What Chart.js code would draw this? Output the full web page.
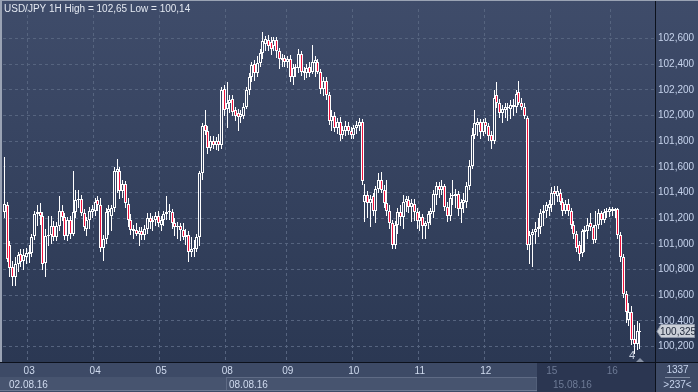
<!DOCTYPE html>
<html>
<head>
<meta charset="utf-8">
<title>USD/JPY 1H</title>
<script src="https://cdn.jsdelivr.net/npm/chart.js@4.4.1/dist/chart.umd.min.js"></script>
<style>
  html, body { margin: 0; padding: 0; background: #2c3954; }
  #chart { display: block; }
</style>
</head>
<body>
<canvas id="chart" width="698" height="392"></canvas>
<script>
// ─── Data ───────────────────────────────────────────────────

const SLOT_COUNT = 237;             // bars on screen (">237<")
const dayStarts = [9, 33, 57, 81, 103, 127, 151, 175, 199, 221];
const dayLabels = ['03', '04', '05', '08', '09', '10', '11', '12', '15', '16'];
const weekStarts = [0, 81, 199];
const weekLabels = ['02.08.16', '08.08.16', '15.08.16'];
const DIM_FROM = 194;               // start of the greyed-out part of the time axis
const yTicks = [100.2, 100.4, 100.6, 100.8, 101.0, 101.2, 101.4, 101.6, 101.8, 102.0, 102.2, 102.4, 102.6];

const opens = [
  101.25,101.30,100.99,100.82,100.74,100.84,100.92,100.87,100.90,100.92,
  100.93,101.06,101.23,101.25,101.22,100.85,101.06,101.07,101.14,101.05,
  101.14,101.26,101.21,101.06,101.19,101.08,101.25,101.34,101.35,101.24,
  101.12,101.19,101.25,101.26,101.34,101.30,100.97,101.04,101.25,101.22,
  101.28,101.56,101.57,101.41,101.47,101.31,101.19,101.10,101.11,101.08,
  101.10,101.07,101.12,101.20,101.17,101.19,101.22,101.15,101.19,101.23,
  101.25,101.25,101.16,101.13,101.14,101.11,101.05,101.07,100.94,100.96,
  100.96,101.05,101.55,101.93,101.88,101.75,101.80,101.77,101.80,101.77,
  102.21,102.05,102.10,102.13,102.04,102.02,101.99,102.00,102.07,102.20,
  102.30,102.40,102.33,102.41,102.49,102.56,102.59,102.57,102.54,102.59,
  102.50,102.43,102.45,102.42,102.44,102.30,102.37,102.37,102.48,102.35,
  102.33,102.38,102.34,102.41,102.42,102.34,102.21,102.27,102.16,101.96,
  102.00,101.90,101.95,101.85,101.88,101.92,101.88,101.85,101.90,101.92,
  101.95,101.33,101.38,101.32,101.37,101.26,101.43,101.50,101.42,101.32,
  101.26,101.16,100.99,101.15,101.25,101.21,101.33,101.34,101.29,101.31,
  101.25,101.18,101.21,101.14,101.16,101.23,101.25,101.38,101.45,101.42,
  101.45,101.29,101.22,101.38,101.37,101.39,101.27,101.32,101.33,101.45,
  101.61,101.85,101.93,101.95,101.87,101.95,101.92,101.85,101.80,102.16,
  102.10,102.02,102.04,102.07,102.05,102.07,102.07,102.18,102.10,102.07,
  101.98,100.99,101.07,101.09,101.12,101.13,101.24,101.26,101.28,101.30,
  101.41,101.37,101.40,101.33,101.26,101.31,101.26,101.15,101.08,100.99,
  100.93,101.09,101.10,101.16,101.13,101.03,101.15,101.24,101.19,101.25,
  101.25,101.27,101.26,101.27,101.07,100.90,100.61,100.41,100.47,100.26,
  100.22,100.31
];

const highs = [
  101.68,101.33,101.02,100.87,100.90,100.94,100.96,100.96,100.97,100.99,
  101.08,101.26,101.30,101.32,101.25,101.12,101.22,101.22,101.18,101.17,
  101.37,101.30,101.24,101.21,101.22,101.57,101.42,101.42,101.38,101.27,
  101.21,101.29,101.30,101.36,101.37,101.36,101.07,101.28,101.30,101.30,
  101.60,101.66,101.60,101.50,101.49,101.36,101.23,101.15,101.16,101.13,
  101.13,101.15,101.24,101.24,101.22,101.25,101.26,101.22,101.26,101.37,
  101.31,101.27,101.20,101.17,101.16,101.16,101.12,101.10,101.05,101.03,
  101.08,101.57,101.94,102.04,101.92,101.84,101.84,101.83,101.86,102.22,
  102.24,102.26,102.16,102.16,102.07,102.05,102.04,102.10,102.22,102.33,
  102.42,102.43,102.46,102.52,102.65,102.62,102.63,102.61,102.61,102.61,
  102.53,102.48,102.47,102.46,102.47,102.40,102.40,102.52,102.50,102.38,
  102.40,102.42,102.55,102.46,102.44,102.36,102.30,102.30,102.18,102.04,
  102.03,101.98,101.99,101.92,101.96,101.95,101.91,101.93,101.96,101.98,
  101.97,101.47,101.41,101.38,101.40,101.45,101.55,101.56,101.46,101.50,
  101.30,101.19,101.18,101.28,101.30,101.38,101.37,101.37,101.35,101.35,
  101.28,101.26,101.23,101.18,101.26,101.28,101.42,101.48,101.48,101.50,
  101.47,101.33,101.40,101.50,101.43,101.41,101.35,101.40,101.48,101.65,
  101.90,102.04,101.98,101.97,101.97,101.98,101.94,101.88,102.20,102.26,
  102.13,102.08,102.10,102.10,102.12,102.13,102.20,102.27,102.14,102.10,
  102.00,101.10,101.12,101.17,101.20,101.27,101.30,101.33,101.34,101.44,
  101.45,101.45,101.43,101.36,101.34,101.35,101.28,101.18,101.10,101.02,
  101.12,101.14,101.20,101.24,101.15,101.26,101.27,101.26,101.27,101.28,
  101.29,101.29,101.28,101.28,101.09,100.92,100.63,100.54,100.52,100.37,
  100.40,100.38
];

const lows = [
  101.20,100.86,100.74,100.67,100.67,100.78,100.82,100.80,100.84,100.85,
  100.90,101.03,101.14,101.15,100.80,100.74,100.98,101.00,101.02,101.02,
  101.10,101.18,101.03,101.02,101.04,101.06,101.20,101.28,101.22,101.10,
  101.06,101.12,101.20,101.22,101.26,100.94,100.87,101.00,101.07,101.10,
  101.25,101.40,101.35,101.36,101.28,101.13,101.07,101.04,101.06,100.98,
  101.03,101.03,101.08,101.12,101.10,101.14,101.13,101.10,101.14,101.19,
  101.19,101.12,101.06,101.04,101.02,101.03,100.99,100.86,100.90,100.90,
  100.94,100.98,101.50,101.85,101.70,101.72,101.74,101.73,101.72,101.74,
  102.00,101.90,102.02,102.00,101.96,101.88,101.94,101.97,102.05,102.16,
  102.26,102.27,102.30,102.38,102.44,102.50,102.50,102.47,102.50,102.45,
  102.36,102.38,102.38,102.37,102.26,102.24,102.30,102.33,102.31,102.28,
  102.29,102.30,102.32,102.30,102.32,102.17,102.15,102.12,101.93,101.88,
  101.87,101.86,101.80,101.82,101.84,101.85,101.82,101.82,101.86,101.88,
  101.46,101.17,101.20,101.13,101.22,101.16,101.40,101.40,101.28,101.22,
  101.12,100.96,100.96,101.08,101.14,101.12,101.25,101.24,101.17,101.18,
  101.12,101.10,101.04,101.04,101.12,101.15,101.20,101.30,101.36,101.38,
  101.26,101.17,101.18,101.30,101.28,101.22,101.16,101.24,101.28,101.42,
  101.58,101.82,101.84,101.82,101.84,101.86,101.80,101.74,101.78,102.06,
  101.98,101.94,101.98,101.96,101.97,102.00,102.02,102.08,102.04,101.97,
  100.95,100.84,100.82,101.00,101.05,101.08,101.14,101.20,101.22,101.25,
  101.30,101.33,101.30,101.22,101.23,101.22,101.12,101.04,100.94,100.87,
  100.90,100.94,101.04,101.10,101.00,101.01,101.12,101.15,101.16,101.20,
  101.21,101.22,101.20,101.04,100.86,100.58,100.38,100.36,100.21,100.14,
  100.17,100.18
];

const closes = [
  101.31,100.88,100.81,100.74,100.84,100.91,100.86,100.91,100.93,100.94,
  101.05,101.23,101.25,101.22,100.84,101.06,101.07,101.14,101.05,101.14,
  101.26,101.21,101.06,101.19,101.08,101.25,101.34,101.35,101.24,101.13,
  101.19,101.26,101.27,101.33,101.30,100.97,101.04,101.25,101.27,101.28,
  101.57,101.58,101.41,101.47,101.32,101.19,101.11,101.12,101.08,101.10,
  101.07,101.12,101.20,101.17,101.19,101.22,101.16,101.19,101.23,101.25,
  101.26,101.16,101.13,101.14,101.11,101.05,101.07,100.94,100.96,100.97,
  101.05,101.55,101.92,101.88,101.75,101.80,101.77,101.80,101.77,102.20,
  102.04,102.10,102.12,102.03,102.00,101.99,102.01,102.07,102.20,102.30,
  102.39,102.33,102.41,102.49,102.58,102.60,102.54,102.52,102.59,102.50,
  102.44,102.45,102.42,102.44,102.30,102.37,102.38,102.48,102.34,102.33,
  102.37,102.33,102.42,102.43,102.34,102.21,102.27,102.16,101.96,102.00,
  101.90,101.95,101.85,101.89,101.92,101.88,101.85,101.90,101.93,101.95,
  101.49,101.38,101.32,101.35,101.26,101.43,101.50,101.42,101.32,101.26,
  101.16,100.99,101.15,101.25,101.21,101.33,101.35,101.29,101.32,101.25,
  101.18,101.21,101.14,101.16,101.23,101.26,101.39,101.45,101.42,101.45,
  101.29,101.22,101.36,101.37,101.39,101.27,101.33,101.34,101.45,101.61,
  101.85,101.94,101.95,101.87,101.95,101.92,101.84,101.80,102.14,102.10,
  102.02,102.05,102.07,102.06,102.08,102.08,102.17,102.10,102.07,102.00,
  100.99,101.07,101.09,101.12,101.13,101.24,101.26,101.30,101.31,101.40,
  101.39,101.41,101.33,101.26,101.31,101.26,101.15,101.08,100.97,100.92,
  101.10,101.11,101.15,101.13,101.03,101.15,101.24,101.19,101.25,101.26,
  101.27,101.26,101.27,101.07,100.90,100.61,100.47,100.47,100.25,100.22,
  100.32,100.325
];

// ─── Style ──────────────────────────────────────────────────

const FONT = '"Liberation Sans", Arial, sans-serif';
const TEXT = '#c6d3ec';
const TEXT_DIM = '#6d7a95';
const GRID = '#56647f';
const BEAR = '#f0123c';
const HOLLOW = '#34415d';

Chart.defaults.font.family = FONT;
Chart.defaults.font.size = 10;

const fmt = v => v.toFixed(3).replace('.', ',');
const slots = Array.from({ length: SLOT_COUNT }, (_, i) => i);
const dayAt = {};
dayStarts.forEach((s, i) => { dayAt[s] = dayLabels[i]; });

// ─── Helpers ────────────────────────────────────────────────

function slotEdge(xScale, i) {
  const w = (xScale.right - xScale.left) / SLOT_COUNT;
  return xScale.getPixelForValue(i) - w / 2;
}

// snap bars to whole pixels so the candles stay crisp like the terminal's
const snapPlugin = {
  id: 'snap',
  beforeDatasetsDraw(chart) {
    chart.data.datasets.forEach((ds, di) => {
      chart.getDatasetMeta(di).data.forEach(el => {
        el.x = Math.round(el.x - 0.5) + 0.5;
        let top = Math.round(Math.min(el.y, el.base));
        let bot = Math.round(Math.max(el.y, el.base));
        if (bot - top < 1) bot = top + 1;
        el.y = top;
        el.base = bot;
      });
    });
  }
};

// ─── Panels / overlays ──────────────────────────────────────

const terminalPlugin = {
  id: 'terminal',
  beforeDraw(chart) {
    const { ctx, chartArea: a, width, height } = chart;
    const xs = chart.scales.x;
    const dimX = Math.round(slotEdge(xs, DIM_FROM));
    ctx.save();

    const g = ctx.createLinearGradient(0, 0, 0, a.bottom);
    g.addColorStop(0, '#3f4c6a');
    g.addColorStop(1, '#2b3853');
    ctx.fillStyle = g;
    ctx.fillRect(0, 0, width, a.bottom);

    // time axis strip
    ctx.fillStyle = '#3d4a66';
    ctx.fillRect(0, a.bottom, width, height - a.bottom);
    ctx.fillStyle = '#47546f';
    ctx.fillRect(0, a.bottom + 15, dimX, 14);
    ctx.strokeStyle = '#5f6b85';
    ctx.lineWidth = 1;
    const w2 = Math.round(slotEdge(xs, weekStarts[1])) + 0.5;
    ctx.strokeRect(w2, a.bottom + 15.5, dimX - w2, 13);
    ctx.fillStyle = '#6c7891';
    ctx.fillRect(0, height - 2, dimX, 1);
    ctx.fillStyle = '#2b3651';
    ctx.fillRect(dimX, a.bottom + 1, a.right - dimX, height - a.bottom - 1);
    ctx.restore();
  },
  afterDraw(chart) {
    const { ctx, chartArea: a, width, height } = chart;
    const xs = chart.scales.x;
    const ys = chart.scales.y;
    const dimX = slotEdge(xs, DIM_FROM);
    ctx.save();

    // week dates
    ctx.font = '10px ' + FONT;
    ctx.textBaseline = 'middle';
    ctx.textAlign = 'left';
    weekLabels.forEach((t, i) => {
      const x = i === 0 ? 9 : Math.round(slotEdge(xs, weekStarts[i])) + 3;
      ctx.fillStyle = x > dimX ? TEXT_DIM : '#d0dbef';
      ctx.fillText(t, x, a.bottom + 23);
    });

    // separators
    ctx.fillStyle = '#0c111c';
    ctx.fillRect(0, a.bottom, width, 1);
    ctx.fillRect(a.right, 0, 1, height);
    ctx.fillStyle = '#9aa3b4';
    ctx.fillRect(0, 0, width, 1);
    ctx.fillRect(0, 0, 2, a.bottom);

    // title
    const hi = Math.max(...highs).toFixed(2).replace('.', ',');
    const lo = Math.min(...lows).toFixed(2).replace('.', ',');
    ctx.font = '10px ' + FONT;
    ctx.fillStyle = '#e3e8f1';
    ctx.fillText(`USD/JPY 1H High = ${hi} Low = ${lo}`, 4, 9);

    // last price tag
    const last = closes[closes.length - 1];
    const py = Math.round(ys.getPixelForValue(last));
    ctx.beginPath();
    ctx.moveTo(a.right + 2, py + 0.5);
    ctx.lineTo(a.right + 6, py - 6.5);
    ctx.lineTo(width - 3.5, py - 6.5);
    ctx.lineTo(width - 3.5, py + 6.5);
    ctx.lineTo(a.right + 6, py + 6.5);
    ctx.closePath();
    ctx.fillStyle = '#cbd0d8';
    ctx.fill();
    ctx.strokeStyle = '#8e97a8';
    ctx.stroke();
    ctx.fillStyle = '#1d2638';
    ctx.fillText(fmt(last), a.right + 5, py + 1);

    // event marker
    ctx.fillStyle = '#c9d1e0';
    ctx.font = '11px ' + FONT;
    ctx.fillText('4', 629, a.bottom - 6);
    ctx.fillStyle = '#8792a6';
    ctx.beginPath();
    ctx.moveTo(636, a.bottom);
    ctx.lineTo(640, a.bottom - 4);
    ctx.lineTo(644, a.bottom);
    ctx.closePath();
    ctx.fill();

    // corner box
    ctx.font = '10px ' + FONT;
    const cx = (a.right + width) / 2 + 1;
    ctx.textAlign = 'center';
    ctx.fillStyle = TEXT;
    ctx.fillText('1337', cx, a.bottom + 8);
    ctx.fillText('>' + SLOT_COUNT + '<', cx, a.bottom + 23);
    ctx.fillStyle = '#7f8ba2';
    ctx.fillRect(a.right + 10, a.bottom + 15, 25, 1);
    ctx.restore();
  }
};

// ─── Chart ──────────────────────────────────────────────────

const bodies = opens.map((o, i) => [o, closes[i]]);
const wicks = lows.map((l, i) => [l, highs[i]]);
const bodyColors = opens.map((o, i) => (closes[i] < o ? BEAR : HOLLOW));

new Chart(document.getElementById('chart'), {
  type: 'bar',
  data: {
    labels: slots,
    datasets: [
      {
        label: 'body',
        data: bodies,
        order: 1,
        grouped: false,
        barThickness: 3,
        minBarLength: 1,
        backgroundColor: bodyColors,
        borderColor: '#ffffff',
        borderWidth: 1,
        borderSkipped: false,
        inflateAmount: 0,
      },
      {
        label: 'wick',
        data: wicks,
        order: 2,
        grouped: false,
        barThickness: 1,
        backgroundColor: '#ffffff',
        borderWidth: 0,
        inflateAmount: 0,
      },
    ],
  },
  options: {
    responsive: false,
    devicePixelRatio: 1,
    animation: false,
    events: [],
    layout: { padding: { left: 3, top: 2, right: 0, bottom: 0 } },
    plugins: {
      legend: { display: false },
      tooltip: { enabled: false },
    },
    scales: {
      x: {
        type: 'category',
        offset: true,
        afterFit: s => { s.height = 30; },
        grid: {
          offset: true,
          drawTicks: false,
          color: c => (dayAt[c.index] !== undefined ? GRID : 'rgba(0,0,0,0)'),
        },
        border: { display: false, dash: [3, 3] },
        ticks: {
          autoSkip: false,
          maxRotation: 0,
          padding: 3,
          color: c => (c.index >= DIM_FROM ? TEXT_DIM : '#d0dbef'),
          callback: (v, i) => (dayAt[i] !== undefined ? dayAt[i] : ''),
        },
      },
      y: {
        position: 'right',
        min: 100.08,
        max: 102.83,
        afterFit: s => { s.width = 43; },
        afterBuildTicks: s => { s.ticks = yTicks.map(v => ({ value: v })); },
        grid: { color: GRID, drawTicks: false },
        border: { display: false, dash: [3, 3] },
        ticks: {
          padding: 3,
          color: TEXT,
          callback: v => fmt(v),
        },
      },
    },
  },
  plugins: [snapPlugin, terminalPlugin],
});
</script>
</body>
</html>
